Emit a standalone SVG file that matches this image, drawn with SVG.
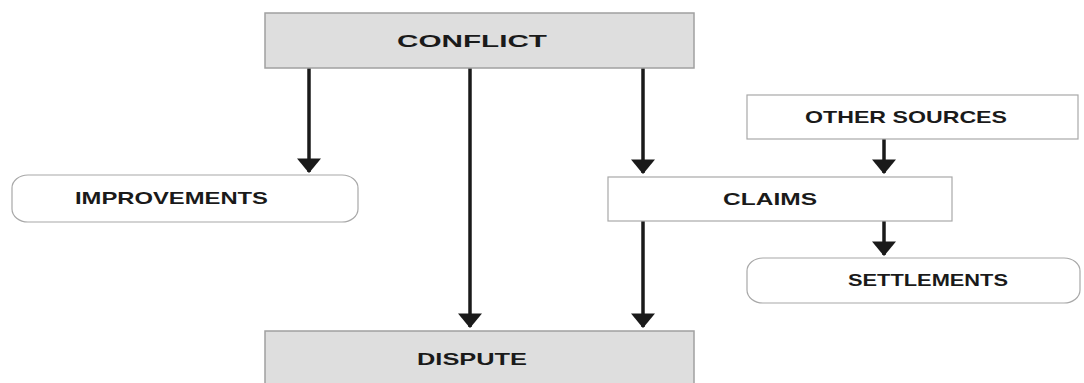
<svg xmlns="http://www.w3.org/2000/svg" width="1084" height="383" viewBox="0 0 1084 383">
<style>
.grey{fill:#dedede;stroke:#a0a0a0;stroke-width:1.5}
.white{fill:#ffffff;stroke:#a8a8a8;stroke-width:1.2}
.lbl{font-family:"Liberation Sans",Arial,sans-serif;font-weight:bold;font-size:17px;fill:#1a1a1a;text-anchor:start}
.conn{stroke:#1a1a1a;stroke-width:3.5;fill:none;marker-end:url(#ah)}
</style>
<defs>
<marker id="ah" markerUnits="userSpaceOnUse" markerWidth="15" markerHeight="24" refX="13" refY="11.5" orient="auto" viewBox="0 0 14 23">
<path d="M0,0 L14,11.5 L0,23 Z" fill="#1a1a1a"/>
</marker>
</defs>
<rect width="1084" height="383" fill="#ffffff"/>
<g id="connectors">
<line x1="309" y1="68" x2="309" y2="172" class="conn"/>
<line x1="470" y1="68" x2="470" y2="327" class="conn"/>
<line x1="643" y1="68" x2="643" y2="173" class="conn"/>
<line x1="884" y1="139" x2="884" y2="173" class="conn"/>
<line x1="884" y1="221" x2="884" y2="255" class="conn"/>
<line x1="643" y1="221" x2="643" y2="327" class="conn"/>
</g>
<g id="conflict">
<rect class="grey" x="265" y="13" width="429" height="55"/>
<text class="lbl" x="397" y="47" textLength="150" lengthAdjust="spacingAndGlyphs">CONFLICT</text>
</g>
<g id="improvements">
<rect class="white" x="12" y="175" width="346" height="47" rx="16" ry="13"/>
<text class="lbl" x="75" y="204" textLength="193" lengthAdjust="spacingAndGlyphs">IMPROVEMENTS</text>
</g>
<g id="other-sources">
<rect class="white" x="747" y="95" width="331" height="44"/>
<text class="lbl" x="805" y="123" textLength="202" lengthAdjust="spacingAndGlyphs">OTHER SOURCES</text>
</g>
<g id="claims">
<rect class="white" x="608" y="177" width="344" height="44"/>
<text class="lbl" x="723" y="205" textLength="94" lengthAdjust="spacingAndGlyphs">CLAIMS</text>
</g>
<g id="settlements">
<rect class="white" x="747" y="258" width="333" height="45" rx="16" ry="13"/>
<text class="lbl" x="848" y="286" textLength="160" lengthAdjust="spacingAndGlyphs">SETTLEMENTS</text>
</g>
<g id="dispute">
<rect class="grey" x="265" y="331" width="429" height="60"/>
<text class="lbl" x="417" y="365" textLength="110" lengthAdjust="spacingAndGlyphs">DISPUTE</text>
</g>
</svg>
